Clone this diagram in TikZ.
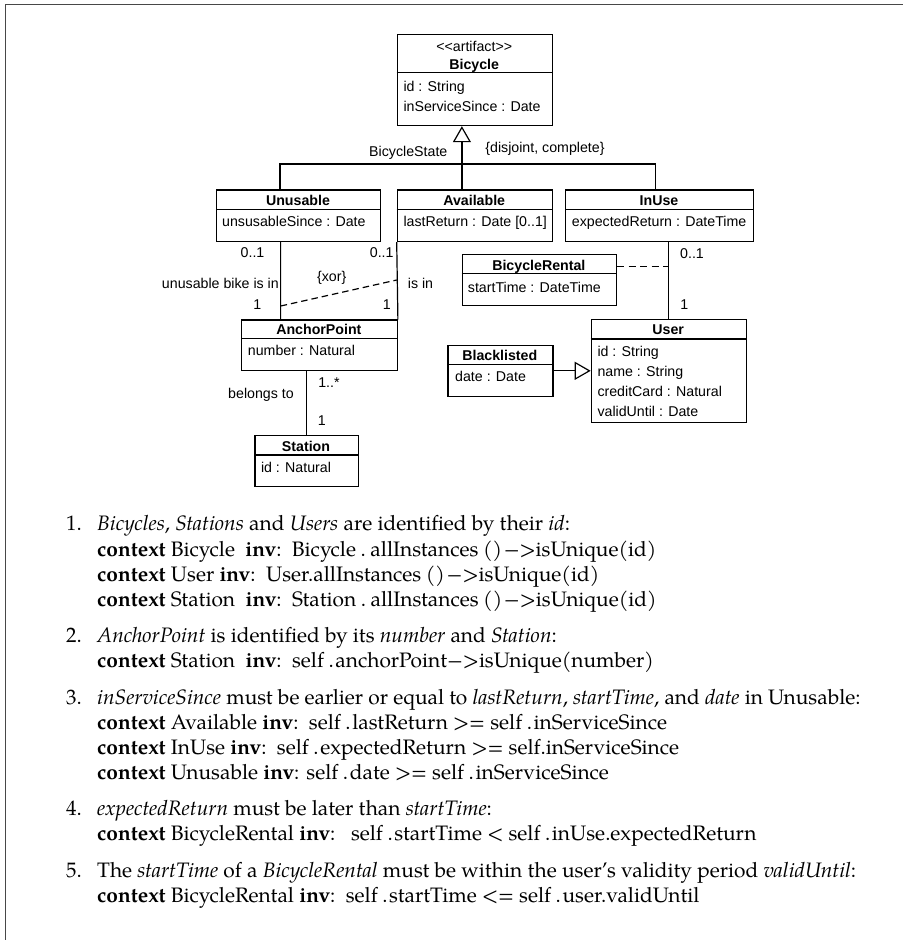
\documentclass[tikz,border=0pt]{standalone}
\usepackage{fontspec}
\setmainfont{Liberation Sans}
\newfontfamily\pal{texgyrepagella}[Extension=.otf, UprightFont=*-regular, BoldFont=*-bold, ItalicFont=*-italic, BoldItalicFont=*-bolditalic]
\usetikzlibrary{arrows.meta}

% small spaces used in the OCL expressions
\newcommand\tsp{\hspace{0.22em}}
\newcommand\osp{\hspace{0.08em}}

% a UML class: name, x1, y1, x2, y2, y of the rule under the header
\newcommand\umlclass[6]{%
  \node[classbox, minimum width={#4-#2}, minimum height={#5-#3}] (#1) at (#2,#3) {};
  \draw[boxrule] (#2,#6) -- (#4,#6);
}

\tikzset{
  classbox/.style={draw, line width=1.2pt, inner sep=0pt, anchor=north west},
  boxrule/.style={line width=1.1pt},
  uml/.style={font=\fontsize{14.2}{17}\selectfont, inner sep=0pt},
  ctitle/.style={uml, font=\fontsize{14.2}{17}\selectfont\bfseries, anchor=base},
  cattr/.style={uml, anchor=base west},
  lbl/.style={uml, anchor=base},
  assoc/.style={line width=1.2pt},
  dashlink/.style={line width=1.2pt, dash pattern=on 7pt off 4.5pt},
  genarrow/.style={line width=1.2pt, {Triangle[open, length=16pt, width=18pt, line width=1.2pt]}-},
  txt/.style={font=\pal\fontsize{20.9}{25}\selectfont, inner sep=0pt, anchor=base west},
  num/.style={font=\pal\fontsize{20.9}{25}\selectfont, inner sep=0pt, anchor=base east},
  frame/.style={line width=1.6pt, draw=black!72},
}

\begin{document}
\begin{tikzpicture}[x=1pt, y=-1pt]
\useasboundingbox (0,0) rectangle (903,940);
\draw[frame] (5.5,940) -- (5.5,4.5) -- (903,4.5);

% ---------- classes ----------
\umlclass{bicycle}{396.7}{34}{551.7}{125}{72.7}
\node[lbl] (bicycle-st) at (474.2,51) {<{}<artifact>{}>};
\node[ctitle] (bicycle-t) at (474.2,69.3) {Bicycle};
\node[cattr] (bicycle-a1) at (403.3,91.7) {id : String};
\node[cattr] (bicycle-a2) at (403.3,111.7) {inServiceSince : Date};

\umlclass{unusable}{216}{189.3}{380}{241}{209.3}
\node[ctitle] (unusable-t) at (298,205) {Unusable};
\node[cattr] (unusable-a1) at (222,226.7) {unsusableSince : Date};

\umlclass{available}{396.7}{189.3}{551.7}{241}{209.3}
\node[ctitle] (available-t) at (474.2,205) {Available};
\node[cattr] (available-a1) at (403.3,226.7) {lastReturn : Date [0..1]};

\umlclass{inuse}{565}{189.3}{753}{241}{209.3}
\node[ctitle] (inuse-t) at (659,205) {InUse};
\node[cattr] (inuse-a1) at (571.7,226.7) {expectedReturn : DateTime};

\umlclass{anchor}{241}{319.3}{396.7}{370}{338.3}
\node[ctitle] (anchor-t) at (318.85,334.3) {AnchorPoint};
\node[cattr] (anchor-a1) at (247.7,355.7) {number : Natural};

\umlclass{station}{254.3}{435}{357.7}{486}{455}
\node[ctitle] (station-t) at (306,451) {Station};
\node[cattr] (station-a1) at (260.8,472.5) {id : Natural};

\umlclass{rental}{461.7}{254}{616}{305}{273.3}
\node[ctitle] (rental-t) at (538.85,270) {BicycleRental};
\node[cattr] (rental-a1) at (467.7,292.3) {startTime : DateTime};

\umlclass{user}{590.7}{319}{745.7}{421.7}{339}
\node[ctitle] (user-t) at (668.2,334.3) {User};
\node[cattr] (user-a1) at (597.3,356) {id : String};
\node[cattr] (user-a2) at (597.3,376.5) {name : String};
\node[cattr] (user-a3) at (597.3,396) {creditCard : Natural};
\node[cattr] (user-a4) at (597.3,416) {validUntil : Date};

\umlclass{black}{447.3}{344.7}{552.3}{395.7}{364.3}
\node[ctitle] (black-t) at (499.8,360) {Blacklisted};
\node[cattr] (black-a1) at (455,381.7) {date : Date};

% ---------- generalisation set BicycleState ----------
\draw[genarrow] ([xshift=-12.9pt]bicycle.south) -- ([xshift=-12.9pt]available.north);
\draw[assoc] ([xshift=-18.7pt]unusable.north) -- ++(0,-25.3) -| ([xshift=-4pt]inuse.north);
\node[lbl] (gs-name) at (408.3,156.7) {BicycleState};
\node[lbl] (gs-cons) at (545,152.8) {\{disjoint, complete\}};

% ---------- associations to AnchorPoint ----------
\draw[assoc] ([xshift=-18pt]unusable.south) -- ([xshift=-38.85pt]anchor.north);
\draw[assoc] (available.south west) -- (anchor.north east);
\coordinate (xor-a) at (280.7,306);
\coordinate (xor-b) at (396.7,280);
\draw[dashlink, dash pattern=on 6.5pt off 4pt] (xor-a) -- (xor-b);
\node[lbl] (m-u1) at (252.5,257.7) {0..1};
\node[lbl] (m-a1) at (381.7,257.7) {0..1};
\node[uml, anchor=base east] (n-unus) at (279,288.3) {unusable bike is in};
\node[lbl] (n-xor) at (331.7,281.5) {\{xor\}};
\node[lbl] (n-isin) at (420.5,288) {is in};
\node[lbl] (m-u2) at (257.3,309) {1};
\node[lbl] (m-a2) at (386.7,309) {1};

% ---------- AnchorPoint -- Station ----------
\draw[assoc] (anchor.south -| station.north) -- (station.north);
\node[lbl] (m-s1) at (329,387) {1..*};
\node[lbl] (n-belongs) at (261,398.5) {belongs to};
\node[lbl] (m-s2) at (321.7,425) {1};

% ---------- InUse -- User with association class ----------
\draw[assoc] (user.north |- inuse.south) -- (user.north);
\coordinate (rent-mid) at (668.2,266.7);
\draw[dashlink] (rental.east |- rent-mid) -- (rent-mid);
\node[lbl] (m-i1) at (692,258) {0..1};
\node[lbl] (m-i2) at (684.3,309.3) {1};

% ---------- Blacklisted specialises User ----------
\draw[genarrow] (black.east -| user.west) -- (black.east);

% ---------- constraints ----------
\node[num] (c1-n) at (82,530) {1.};
\node[txt] (c1-h) at (97,530) {\textit{Bicycles}, \textit{Stations} and \textit{Users} are identified by their \textit{id}:};
\node[txt] (c1-a) at (97,556) {\textbf{context} Bicycle\ \ \textbf{inv}:\ \ Bicycle\tsp.\tsp allInstances\tsp()\osp−>isUnique(id)};
\node[txt] (c1-b) at (97,581) {\textbf{context} User \textbf{inv}:\ \ User.allInstances\tsp()\osp−>isUnique(id)};
\node[txt] (c1-c) at (97,606) {\textbf{context} Station\ \ \textbf{inv}:\ \ Station\tsp.\tsp allInstances\tsp()\osp−>isUnique(id)};

\node[num] (c2-n) at (82,642.5) {2.};
\node[txt] (c2-h) at (97,642.5) {\textit{AnchorPoint} is identified by its \textit{number} and \textit{Station}:};
\node[txt] (c2-a) at (97,667.5) {\textbf{context} Station\ \ \textbf{inv}:\ \ self\tsp.\osp anchorPoint−>isUnique(number)};

\node[num] (c3-n) at (82,704) {3.};
\node[txt] (c3-h) at (97,704) {\textit{inServiceSince} must be earlier or equal to \textit{lastReturn}, \textit{startTime}, and \textit{date} in Unusable:};
\node[txt] (c3-a) at (97,729) {\textbf{context} Available \textbf{inv}:\ \ self\tsp.\osp lastReturn >= self\tsp.\osp inServiceSince};
\node[txt] (c3-b) at (97,754) {\textbf{context} InUse \textbf{inv}:\ \ self\tsp.\osp expectedReturn >= self.inServiceSince};
\node[txt] (c3-c) at (97,779) {\textbf{context} Unusable \textbf{inv}: self\tsp.\osp date >= self\tsp.\osp inServiceSince};

\node[num] (c4-n) at (82,815.5) {4.};
\node[txt] (c4-h) at (97,815.5) {\textit{expectedReturn} must be later than \textit{startTime}:};
\node[txt] (c4-a) at (97,840.5) {\textbf{context} BicycleRental \textbf{inv}:\ \ \ self\tsp.\osp startTime < self\tsp.\osp inUse.expectedReturn};

\node[num] (c5-n) at (82,877) {5.};
\node[txt] (c5-h) at (97,877) {The \textit{startTime} of a \textit{BicycleRental} must be within the user’s validity period \textit{validUntil}:};
\node[txt] (c5-a) at (97,902) {\textbf{context} BicycleRental \textbf{inv}:\ \ self\tsp.\osp startTime <= self\tsp.\osp user.validUntil};
\end{tikzpicture}
\end{document}
